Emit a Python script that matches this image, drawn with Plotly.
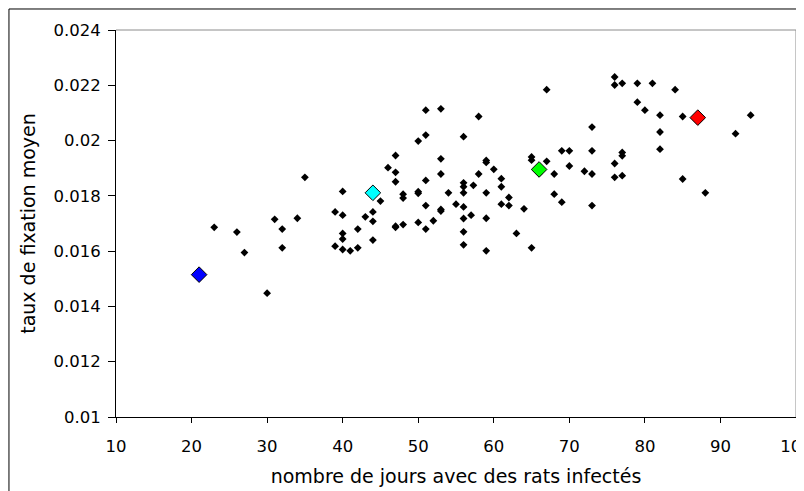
import plotly.graph_objects as go

# black points: days with infected rats vs mean fixation rate
x_days = [23, 26, 27, 30, 31, 32, 32, 34, 35, 39, 39, 40, 40, 40, 40, 40, 41, 42, 42, 43,
          44, 44, 44, 45, 46, 47, 47, 47, 47, 47, 48, 48, 48, 50, 50, 50, 50, 51, 51, 51,
          51, 51, 52, 53, 53, 53, 53, 53, 54, 55, 56, 56, 56, 56, 56, 56, 56, 56, 57, 57.3,
          58, 58, 59, 59, 59, 59, 59, 60, 61, 61, 61, 62, 62, 63, 64, 65, 65, 65, 66, 67,
          67, 68, 68, 69, 69, 70, 70, 72, 73, 73, 73, 73, 76, 76, 76, 76, 77, 77, 77, 77,
          79, 79, 80, 81, 82, 82, 82, 84, 85, 85, 88, 92, 94]
y_rate = [0.01686, 0.01669, 0.01595, 0.01448, 0.01715, 0.01680, 0.01612, 0.01719, 0.01867, 0.01742,
          0.01618, 0.01816, 0.01730, 0.01664, 0.01644, 0.01606, 0.01601, 0.01680, 0.01612, 0.01724,
          0.01742, 0.01708, 0.01640, 0.01781, 0.01902, 0.01946, 0.01885, 0.01851, 0.01690, 0.01686,
          0.01806, 0.01792, 0.01696, 0.01998, 0.01815, 0.01809, 0.01704, 0.02110, 0.02020, 0.01856,
          0.01765, 0.01680, 0.01710, 0.02115, 0.01934, 0.01879, 0.01751, 0.01745, 0.01811, 0.01770,
          0.02014, 0.01847, 0.01833, 0.01811, 0.01760, 0.01718, 0.01670, 0.01623, 0.01730, 0.01838,
          0.02087, 0.01879, 0.01928, 0.01921, 0.01811, 0.01719, 0.01601, 0.01896, 0.01862, 0.01833,
          0.01770, 0.01794, 0.01765, 0.01664, 0.01753, 0.01941, 0.01929, 0.01612, 0.01881, 0.02184,
          0.01925, 0.01879, 0.01806, 0.01963, 0.01777, 0.01963, 0.01908, 0.01889, 0.02049, 0.01963,
          0.01879, 0.01765, 0.02230, 0.02201, 0.01917, 0.01867, 0.02207, 0.01957, 0.01945, 0.01873,
          0.02207, 0.02139, 0.02110, 0.02207, 0.02092, 0.02031, 0.01969, 0.02184, 0.02087, 0.01861,
          0.01811, 0.02025, 0.02092]

# highlighted points
hl_x = [21, 44, 66, 87]
hl_y = [0.01515, 0.01811, 0.018955, 0.02083]
hl_colors = ["#0000FF", "#00FFFF", "#00FF00", "#FF0000"]

x_ticks = [10, 20, 30, 40, 50, 60, 70, 80, 90, 100]
y_ticks = [0.01, 0.012, 0.014, 0.016, 0.018, 0.02, 0.022, 0.024]
y_ticktext = ["0.01", "0.012", "0.014", "0.016", "0.018", "0.02", "0.022", "0.024"]

fig = go.Figure()
fig.add_trace(go.Scatter(
    x=x_days, y=y_rate, mode="markers",
    marker=dict(symbol="diamond", size=6, color="black", line=dict(width=0)),
    showlegend=False, cliponaxis=False))
fig.add_trace(go.Scatter(
    x=hl_x, y=hl_y, mode="markers",
    marker=dict(symbol="diamond", size=12, color=hl_colors, line=dict(width=1, color="black")),
    showlegend=False, cliponaxis=False))

font_family = "DejaVu Sans, Arial, sans-serif"
fig.update_layout(
    width=796, height=483,
    margin=dict(l=108, r=8, t=22, b=74, autoexpand=False),
    paper_bgcolor="white", plot_bgcolor="white",
    font=dict(family=font_family, color="black", size=16),
    xaxis=dict(range=[10, 100], tickvals=x_ticks, ticks="outside", ticklen=5,
               tickcolor="black", showline=True, linecolor="black", linewidth=1,
               showgrid=False, zeroline=False, tickfont=dict(size=16.5),
               ticklabelstandoff=9, ticklabeloverflow="allow", automargin=False,
               title=dict(text="nombre de jours avec des rats infectés", font=dict(size=19), standoff=14)),
    yaxis=dict(range=[0.01, 0.024], tickvals=y_ticks, ticktext=y_ticktext, ticks="outside",
               ticklen=7, tickcolor="black", showline=True, linecolor="black", linewidth=1,
               showgrid=False, zeroline=False, tickfont=dict(size=16.5),
               ticklabelstandoff=4, automargin=False,
               title=dict(text="taux de fixation moyen", font=dict(size=19), standoff=12)),
    shapes=[
        dict(type="line", xref="paper", yref="paper", x0=0, x1=1, y0=1, y1=1,
             line=dict(color="#8c8c8c", width=1)),
        dict(type="line", xref="paper", yref="paper", x0=1, x1=1, y0=0, y1=1,
             line=dict(color="#8c8c8c", width=1)),
        dict(type="rect", xref="paper", yref="paper", x0=-0.1574, x1=1.05, y0=-0.3, y1=1.0543,
             line=dict(color="black", width=1), fillcolor="rgba(0,0,0,0)", layer="below"),
    ],
)

fig.write_html("out.html")
